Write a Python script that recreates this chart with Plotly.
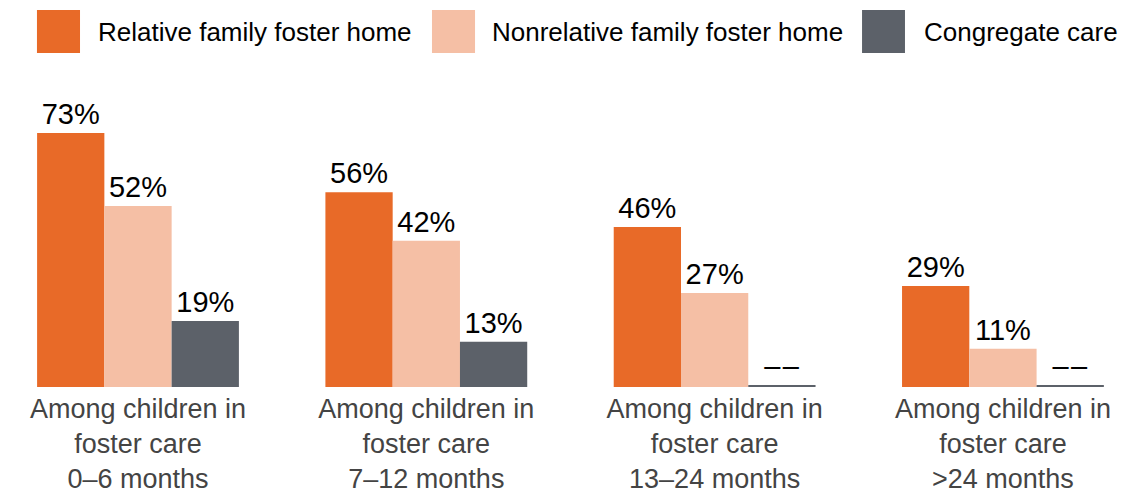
import plotly.graph_objects as go

categories = [
    "Among children in<br>foster care<br>0–6 months",
    "Among children in<br>foster care<br>7–12 months",
    "Among children in<br>foster care<br>13–24 months",
    "Among children in<br>foster care<br>>24 months",
]
series_names = ["Relative family foster home", "Nonrelative family foster home", "Congregate care"]
relative = [73, 56, 46, 29]
nonrelative = [52, 42, 27, 11]
congregate = [19, 13, None, None]  # "––" = not reported

colors = ["#E86A28", "#F5BFA5", "#5C6169"]
NA_STUB = 0.35  # thin baseline drawn for missing values
FONT = "Liberation Sans, Arial, sans-serif"

fig = go.Figure()
for name, vals, col in zip(series_names, [relative, nonrelative, congregate], colors):
    yv = [v if v is not None else NA_STUB for v in vals]
    tx = [f"{v}%" if v is not None else "–\u200a–" for v in vals]
    fig.add_trace(go.Bar(
        x=categories, y=yv, name=name, text=tx, textposition="outside",
        textfont=dict(family=FONT, size=29, color="#000000"),
        marker=dict(color=col, line=dict(width=0)),
        showlegend=False, cliponaxis=False,
    ))

# custom legend (large square swatches)
legend_pos = [(0.0257, 0.0639, 0.0781), (0.3762, 0.4144, 0.4277), (0.7578, 0.7959, 0.8110)]
for (x0, x1, tx), name, col in zip(legend_pos, series_names, colors):
    fig.add_shape(type="rect", xref="paper", yref="paper", x0=x0, x1=x1, y0=1.054, y1=1.189,
                  fillcolor=col, line=dict(width=0))
    fig.add_annotation(xref="paper", yref="paper", x=tx, y=1.121, xanchor="left", yanchor="middle",
                       text=name, showarrow=False, font=dict(family=FONT, size=26, color="#000000"))

fig.update_layout(
    width=1127, height=487,
    margin=dict(l=0, r=0, t=62, b=108),
    barmode="group", bargap=0.30, bargroupgap=0,
    paper_bgcolor="white", plot_bgcolor="white",
    xaxis=dict(range=[-0.4509, 3.458], showline=False, showgrid=False, zeroline=False, ticks="",
               ticklabelstandoff=3, automargin=False,
               tickfont=dict(family=FONT, size=27, color="#444444")),
    yaxis=dict(range=[0, 91.1], visible=False, showgrid=False, zeroline=False, automargin=False),
)

fig.write_html("out.html")
